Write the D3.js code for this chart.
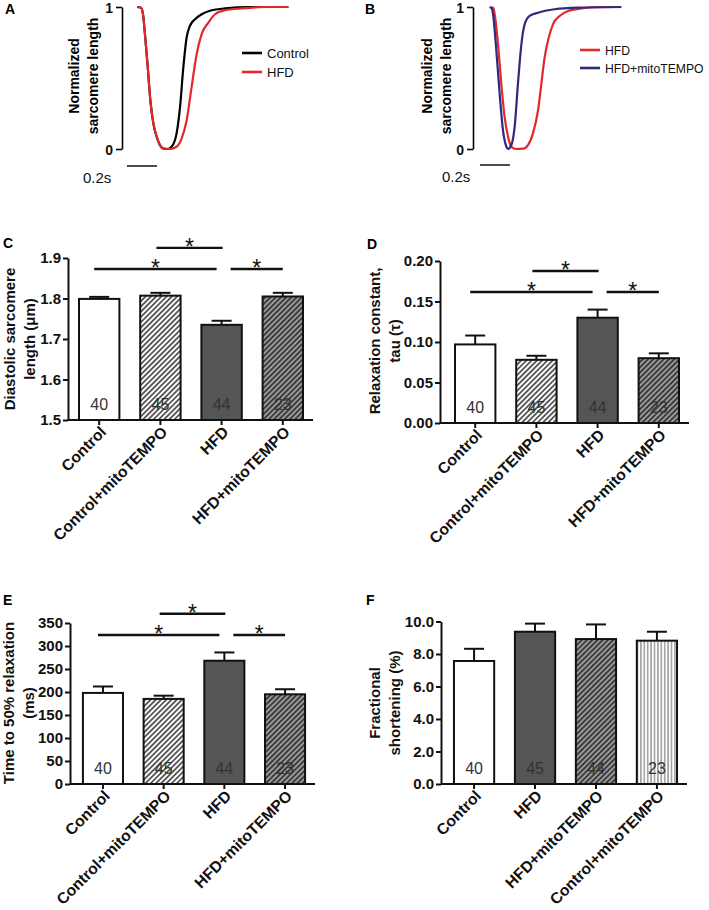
<!DOCTYPE html>
<html><head><meta charset="utf-8">
<script src="https://cdn.jsdelivr.net/npm/d3@7/dist/d3.min.js"></script>
<style>
body{margin:0;background:#fff}
text{font-family:"Liberation Sans",Arial,Helvetica,sans-serif}
</style>
</head><body>
<script>
// ---------- DATA ----------
// Panel A/B traces: [time (s), normalized sarcomere length]
const traceA_Control = [[0,1],[0.027,0.995],[0.04,0.95],[0.053,0.81],[0.07,0.6],[0.089,0.343],[0.109,0.18],[0.135,0.075],[0.16,0.016],[0.18,0.002],[0.205,0],[0.231,0.016],[0.264,0.11],[0.287,0.296],[0.309,0.576],[0.331,0.786],[0.353,0.867],[0.387,0.914],[0.431,0.949],[0.498,0.977],[0.587,0.99],[0.742,1.0],[1.009,1.0]];
const traceA_HFD = [[0,1],[0.027,0.995],[0.04,0.95],[0.053,0.81],[0.07,0.6],[0.089,0.343],[0.109,0.18],[0.135,0.075],[0.16,0.016],[0.185,0.002],[0.22,0],[0.264,0.016],[0.298,0.075],[0.331,0.203],[0.364,0.436],[0.398,0.669],[0.431,0.809],[0.476,0.89],[0.52,0.949],[0.587,0.977],[0.698,0.99],[0.853,1.0],[1.009,1.0]];
const traceB_HFD = [[0.016,1],[0.03,0.99],[0.038,0.949],[0.06,0.739],[0.082,0.459],[0.104,0.226],[0.127,0.086],[0.149,0.016],[0.182,0],[0.227,0.002],[0.26,0.028],[0.293,0.11],[0.327,0.273],[0.349,0.459],[0.371,0.646],[0.393,0.762],[0.427,0.879],[0.471,0.937],[0.527,0.972],[0.616,0.99],[0.749,1.0],[0.882,1.0]];
const traceB_Mito = [[0.004,1],[0.018,0.99],[0.027,0.949],[0.049,0.692],[0.071,0.389],[0.093,0.133],[0.116,0.016],[0.127,0],[0.149,0.028],[0.171,0.156],[0.193,0.459],[0.216,0.739],[0.238,0.879],[0.271,0.937],[0.327,0.96],[0.438,0.984],[0.593,0.995],[0.882,1.0]];
const traceTicks = [0, 1];
const legendA = ["Control", "HFD"];
const legendB = ["HFD", "HFD+mitoTEMPO"];

// Bar panels
const catsCDE = ["Control", "Control+mitoTEMPO", "HFD", "HFD+mitoTEMPO"];
const catsF = ["Control", "HFD", "HFD+mitoTEMPO", "Control+mitoTEMPO"];
const countsCDE = [40, 45, 44, 23];
const countsF = [40, 45, 44, 23];

const sarcMean = [1.799, 1.807, 1.735, 1.805];
const sarcSem = [0.005, 0.007, 0.010, 0.009];
const tauMean = [0.097, 0.078, 0.130, 0.080];
const tauSem = [0.011, 0.005, 0.010, 0.006];
const t50Mean = [198, 185, 268, 195];
const t50Sem = [14, 7, 18, 11];
const fsMean = [7.57, 9.37, 8.92, 8.82];
const fsSem = [0.75, 0.50, 0.90, 0.55];

const ticksC = [1.5, 1.6, 1.7, 1.8, 1.9];
const ticksD = [0, 0.05, 0.10, 0.15, 0.20];
const ticksE = [0, 50, 100, 150, 200, 250, 300, 350];
const ticksF = [0, 2, 4, 6, 8, 10];

// significance comparisons: [from index, to index]
const sigPairs = [[0, 2], [1, 2], [2, 3]];
const sigC = [1.873, 1.925, 1.873];
const sigD = [0.1617, 0.1877, 0.1617];
const sigE = [324, 370, 324];

// ---------- DRAW ----------
const FONT = '"Liberation Sans",Arial,Helvetica,sans-serif';
const svg = d3.select("body").append("svg").attr("width", 709).attr("height", 910);
const defs = svg.append("defs");

function hatch(id, bg, lineColor, size, sw, angle) {
  const p = defs.append("pattern").attr("id", id).attr("patternUnits", "userSpaceOnUse")
    .attr("width", size).attr("height", size).attr("patternTransform", `rotate(${angle})`);
  p.append("rect").attr("width", size).attr("height", size).attr("fill", bg);
  p.append("line").attr("x1", size / 2).attr("x2", size / 2).attr("y1", 0).attr("y2", size)
    .attr("stroke", lineColor).attr("stroke-width", sw);
}
hatch("hatchW", "#fff", "#111", 3.7, 1.3, 45);
hatch("hatchG", "#9a9a9a", "#111", 3.7, 1.3, 45);
hatch("vert", "#fff", "#666", 3.4, 1.0, 0);

function panelLetter(x, y, t) {
  svg.append("text").attr("x", x).attr("y", y).text(t)
    .attr("font-size", 14).attr("font-weight", "bold");
}

function tracePanel(cfg) {
  const g = svg.append("g");
  const y = d3.scaleLinear().domain([0, 1]).range([cfg.yBot, cfg.yTop]);
  const x = d3.scaleLinear().domain([0, 1]).range([cfg.t0x, cfg.t0x + 150]);
  const ax = g.append("g").attr("transform", `translate(${cfg.axisX},0)`)
    .call(d3.axisLeft(y).tickValues(traceTicks).tickFormat(d3.format("d")).tickSize(6).tickSizeOuter(0).tickPadding(3));
  ax.select(".domain").attr("stroke-width", 1.6);
  ax.selectAll(".tick line").attr("stroke-width", 1.6);
  ax.selectAll(".tick text").attr("font-size", 14).attr("font-weight", "bold").attr("font-family", FONT).attr("fill", "#111").attr("dy", "0.38em");
  const tt = g.append("text").attr("transform", `translate(${cfg.titleX},${cfg.titleY}) rotate(-90)`)
    .attr("text-anchor", "middle").attr("font-size", 14).attr("font-weight", "bold");
  tt.append("tspan").attr("x", 0).attr("dy", 0).text("Normalized");
  tt.append("tspan").attr("x", 0).attr("dy", 19).text("sarcomere length");
  const line = d3.line().x(d => x(d[0])).y(d => y(d[1])).curve(d3.curveMonotoneX);
  cfg.series.forEach(s => {
    g.append("path").datum(s.data).attr("d", line).attr("fill", "none")
      .attr("stroke", s.color).attr("stroke-width", 2.2);
  });
  g.append("line").attr("x1", x(cfg.barStart)).attr("x2", x(cfg.barStart + 0.2))
    .attr("y1", cfg.barY).attr("y2", cfg.barY).attr("stroke", "#111").attr("stroke-width", 1.5);
  g.append("text").attr("x", cfg.barTextX).attr("y", cfg.barY + 17).text("0.2s")
    .attr("font-size", 15).attr("fill", "#111");
  cfg.legend.forEach((l, i) => {
    const ly = cfg.legY + i * cfg.legGap;
    g.append("line").attr("x1", cfg.legX).attr("x2", cfg.legX + 20).attr("y1", ly).attr("y2", ly)
      .attr("stroke", l.color).attr("stroke-width", 2.6);
    g.append("text").attr("x", cfg.legX + 25).attr("y", ly + 5).text(l.name)
      .attr("font-size", cfg.legFont).attr("fill", "#111");
  });
}

panelLetter(5, 14, "A");
tracePanel({
  axisX: 122, yTop: 7, yBot: 149, t0x: 137, titleX: 79, titleY: 76,
  series: [{data: traceA_Control, color: "#000"}, {data: traceA_HFD, color: "#e3282b"}],
  barStart: -0.067, barY: 166, barTextX: 83,
  legend: [{name: legendA[0], color: "#000"}, {name: legendA[1], color: "#e3282b"}],
  legX: 242, legY: 53, legGap: 19, legFont: 13
});
panelLetter(365, 14, "B");
tracePanel({
  axisX: 473, yTop: 7, yBot: 149, t0x: 489, titleX: 432, titleY: 76,
  series: [{data: traceB_HFD, color: "#e3282b"}, {data: traceB_Mito, color: "#2e2a80"}],
  barStart: -0.06, barY: 165, barTextX: 442,
  legend: [{name: legendB[0], color: "#e3282b"}, {name: legendB[1], color: "#2e2a80"}],
  legX: 580, legY: 50, legGap: 18, legFont: 12.2
});

function barPanel(cfg) {
  const g = svg.append("g");
  const y = d3.scaleLinear().domain(cfg.domain).range([cfg.y0, cfg.y1]);
  const x = d3.scaleBand().domain(cfg.cats).range(cfg.xRange).paddingInner(0.34).paddingOuter(0.17);
  const base = cfg.domain[0];
  cfg.mean.forEach((m, i) => {
    const cx = x(cfg.cats[i]) + x.bandwidth() / 2;
    g.append("line").attr("x1", cx).attr("x2", cx).attr("y1", y(m)).attr("y2", y(m + cfg.sem[i]))
      .attr("stroke", "#111").attr("stroke-width", 2);
    g.append("line").attr("x1", cx - 10).attr("x2", cx + 10).attr("y1", y(m + cfg.sem[i])).attr("y2", y(m + cfg.sem[i]))
      .attr("stroke", "#111").attr("stroke-width", 2);
  });
  g.selectAll("rect.bar").data(cfg.mean).join("rect").attr("class", "bar")
    .attr("x", (d, i) => x(cfg.cats[i])).attr("width", x.bandwidth())
    .attr("y", d => y(d)).attr("height", d => y(base) - y(d))
    .attr("fill", (d, i) => cfg.fills[i]).attr("stroke", "#111").attr("stroke-width", 2);
  cfg.counts.forEach((c, i) => {
    g.append("text").attr("x", x(cfg.cats[i]) + x.bandwidth() / 2).attr("y", cfg.y0 - 10)
      .attr("text-anchor", "middle").attr("font-size", 16).attr("fill", "#333").text(c);
  });
  const ax = g.append("g").attr("transform", `translate(${cfg.axisX},0)`)
    .call(d3.axisLeft(y).tickValues(cfg.ticks).tickFormat(d3.format(cfg.fmt)).tickSize(5).tickSizeOuter(0).tickPadding(2));
  ax.select(".domain").attr("stroke-width", 2).attr("stroke", "#111");
  ax.selectAll(".tick line").attr("stroke-width", 2).attr("stroke", "#111");
  ax.selectAll(".tick text").attr("font-size", 15).attr("font-weight", "bold").attr("font-family", FONT).attr("fill", "#111");
  g.append("line").attr("x1", cfg.axisX).attr("x2", cfg.xEnd).attr("y1", cfg.y0).attr("y2", cfg.y0)
    .attr("stroke", "#111").attr("stroke-width", 2);
  cfg.cats.forEach(c => {
    const cx = x(c) + x.bandwidth() / 2;
    g.append("line").attr("x1", cx).attr("x2", cx).attr("y1", cfg.y0).attr("y2", cfg.y0 + 5)
      .attr("stroke", "#111").attr("stroke-width", 2);
    g.append("text").attr("transform", `translate(${cx + 8},${cfg.y0 + 13}) rotate(-45)`)
      .attr("text-anchor", "end").attr("font-size", 15.7).attr("font-weight", "bold").attr("fill", "#111").text(c);
  });
  const tt = g.append("text").attr("transform", `translate(${cfg.titleX},${cfg.titleY}) rotate(-90)`)
    .attr("text-anchor", "middle").attr("font-size", 15).attr("font-weight", "bold").attr("fill", "#111");
  tt.append("tspan").attr("x", 0).attr("dy", 0).text(cfg.title[0]);
  tt.append("tspan").attr("x", 0).attr("dy", 20).text(cfg.title[1]);
  if (cfg.sig) {
    const off = [[-5, -5], [-4, 1], [9, 0]];
    sigPairs.forEach((p, i) => {
      const x1 = x(cfg.cats[p[0]]) + x.bandwidth() / 2 + off[i][0];
      const x2 = x(cfg.cats[p[1]]) + x.bandwidth() / 2 + off[i][1];
      const ly = y(cfg.sig[i]);
      g.append("line").attr("x1", x1).attr("x2", x2).attr("y1", ly).attr("y2", ly)
        .attr("stroke", "#111").attr("stroke-width", 2.4);
      g.append("text").attr("x", (x1 + x2) / 2).attr("y", ly + 7).attr("text-anchor", "middle")
        .attr("font-size", 23).attr("fill", "#111").text("*");
    });
  }
}

panelLetter(3, 248, "C");
barPanel({
  cats: catsCDE, mean: sarcMean, sem: sarcSem, counts: countsCDE,
  fills: ["#fff", "url(#hatchW)", "#555", "url(#hatchG)"],
  domain: [1.5, 1.9], y0: 420, y1: 258, ticks: ticksC, fmt: ".1f",
  axisX: 68, xEnd: 313, xRange: [68.6, 313.4], sig: sigC,
  title: ["Diastolic sarcomere", "length (\u03bcm)"], titleX: 15, titleY: 339
});
panelLetter(367, 249, "D");
barPanel({
  cats: catsCDE, mean: tauMean, sem: tauSem, counts: countsCDE,
  fills: ["#fff", "url(#hatchW)", "#555", "url(#hatchG)"],
  domain: [0, 0.2], y0: 423, y1: 261, ticks: ticksD, fmt: ".2f",
  axisX: 440, xEnd: 689, xRange: [444.6, 689.4], sig: sigD,
  title: ["Relaxation constant,", "tau (\u03c4)"], titleX: 380, titleY: 341
});
panelLetter(3, 605, "E");
barPanel({
  cats: catsCDE, mean: t50Mean, sem: t50Sem, counts: countsCDE,
  fills: ["#fff", "url(#hatchW)", "#555", "url(#hatchG)"],
  domain: [0, 350], y0: 784, y1: 623, ticks: ticksE, fmt: "d",
  axisX: 70, xEnd: 315, xRange: [72.6, 315.4], sig: sigE,
  title: ["Time to 50% relaxation", "(ms)"], titleX: 14, titleY: 703
});
panelLetter(366, 605, "F");
barPanel({
  cats: catsF, mean: fsMean, sem: fsSem, counts: countsF,
  fills: ["#fff", "#555", "url(#hatchG)", "url(#vert)"],
  domain: [0, 10], y0: 784, y1: 621.5, ticks: ticksF, fmt: ".1f",
  axisX: 441, xEnd: 687, xRange: [443.6, 687.4], sig: null,
  title: ["Fractional", "shortening (%)"], titleX: 380, titleY: 703
});
</script>
</body></html>
